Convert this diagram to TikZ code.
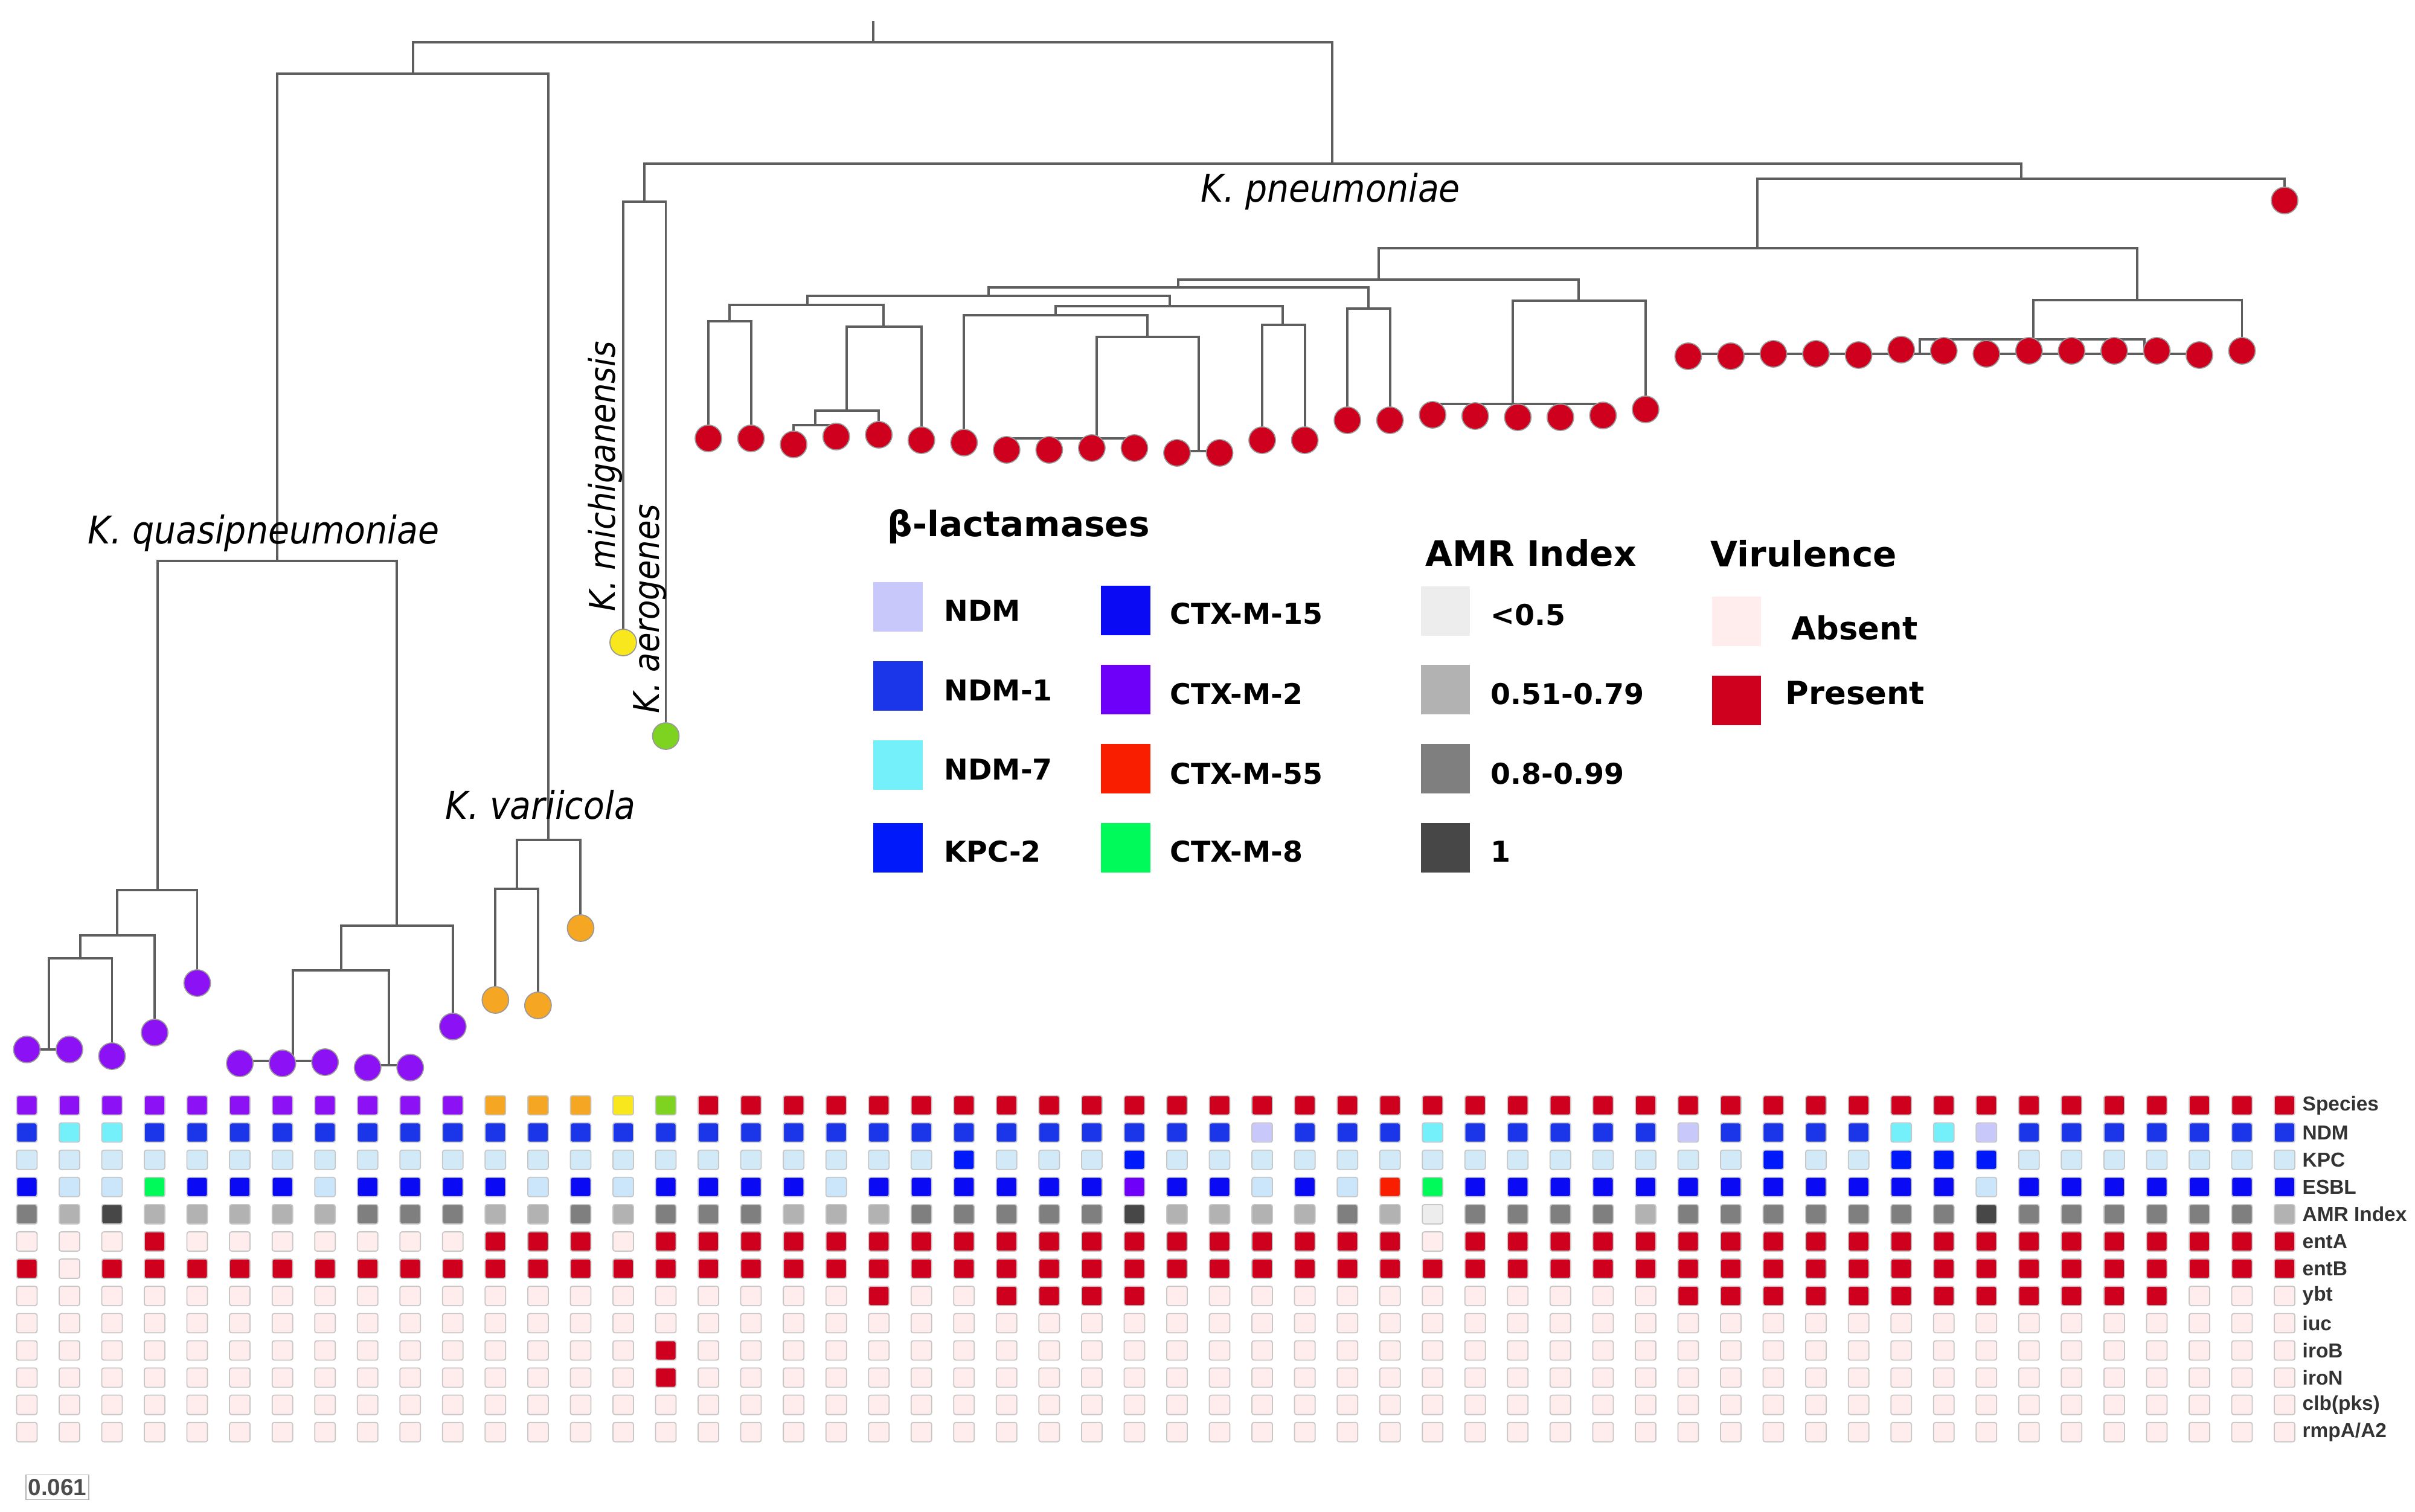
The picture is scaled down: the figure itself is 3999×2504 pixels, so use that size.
\documentclass[tikz,border=0pt]{standalone}
\usepackage{fontspec}
\setmainfont{Liberation Sans}
\newfontfamily\spfont[FakeStretch=0.9]{DejaVu Sans}
\newfontfamily\lgfont{DejaVu Sans}
\definecolor{treegray}{HTML}{5E5E5E}
\definecolor{spP}{HTML}{8C12F5}
\definecolor{spO}{HTML}{F5A623}
\definecolor{spY}{HTML}{F8E71C}
\definecolor{spG}{HTML}{7ED321}
\definecolor{spR}{HTML}{CE001E}
% heat map codes
\definecolor{hmP}{HTML}{8C12F5}
\definecolor{hmO}{HTML}{F5A623}
\definecolor{hmY}{HTML}{F8E71C}
\definecolor{hmG}{HTML}{7ED321}
\definecolor{hmR}{HTML}{CE001E}
\definecolor{hmn}{HTML}{C8C8FA}
\definecolor{hma}{HTML}{1B35E8}
\definecolor{hmg}{HTML}{73F0FA}
\definecolor{hmk}{HTML}{D2EAF8}
\definecolor{hmK}{HTML}{0019FA}
\definecolor{hme}{HTML}{CBE6FA}
\definecolor{hmF}{HTML}{0A0AF5}
\definecolor{hmT}{HTML}{6E00FA}
\definecolor{hmC}{HTML}{FA1E00}
\definecolor{hmE}{HTML}{00FA5A}
\definecolor{hmL}{HTML}{EDEDED}
\definecolor{hmM}{HTML}{B2B2B2}
\definecolor{hmD}{HTML}{7F7F7F}
\definecolor{hmX}{HTML}{474747}
\definecolor{hmz}{HTML}{FFECEC}
\definecolor{hmp}{HTML}{CE001E}
\tikzset{
  tree/.style={draw=treegray, line width=1.1pt},
  leaf/.style={circle, draw=black!40, line width=0.5pt, minimum size=0.44cm, inner sep=0pt},
  hm/.style={rectangle, rounded corners=1pt, draw=black!22, line width=0.5pt, minimum width=0.34cm, minimum height=0.32cm, inner sep=0pt},
  sw/.style={rectangle, minimum size=0.81cm, inner sep=0pt},
  splab/.style={font=\spfont\itshape\fontsize{18}{20}\selectfont, inner sep=0pt, anchor=base west},
  sprot/.style={font=\spfont\itshape\fontsize{16.7}{19}\selectfont, inner sep=0pt, anchor=base west, rotate=90},
  lghead/.style={font=\lgfont\bfseries\fontsize{16.5}{19}\selectfont, inner sep=0pt, anchor=base west},
  lglab/.style={font=\lgfont\bfseries\fontsize{13.5}{16}\selectfont, inner sep=0pt, anchor=base west},
  vlab/.style={font=\lgfont\bfseries\fontsize{15}{17}\selectfont, inner sep=0pt, anchor=base west},
  rowlab/.style={font=\bfseries\fontsize{9.5}{11}\selectfont, text=black!80, inner sep=0pt, anchor=west},
}
\begin{document}
\begin{tikzpicture}[x=0.01cm,y=-0.01cm]
\fill[white] (0,0) rectangle (3999,2504);
\useasboundingbox (0,0) rectangle (3999,2504);

% ---------- leaf positions ----------
\foreach \y [count=\i from 0] in {1738,1738,1749,1710,1628,1761,1761,1759,1768,1768,1700,1656,1665,1537,1064,1219,
  726,726,736,723,720,729,733,745,745,742,742,750,750,729,729,
  696,696,687,689,691,691,688,678,
  590,590,586,586,588,579,581,586,581,581,581,581,588,581,332}
  \coordinate (P\i) at ({44.4+70.54*\i},\y);

% ---------- internal nodes ----------
\coordinate (Rt) at (1446,35);
\coordinate (R) at (1446,70);
\coordinate (A) at (684,122);
\coordinate (Q) at (459,929);
\coordinate (Q1) at (261,1474);
\coordinate (Q11) at (194,1549);
\coordinate (Q111) at (133,1587);
\coordinate (Q1111) at (81,1738);
\coordinate (Q2) at (657,1533);
\coordinate (Q21) at (565,1607);
\coordinate (Q211) at (485,1757);
\coordinate (Q212) at (644,1764);
\coordinate (V) at (908,1391);
\coordinate (V1) at (856,1472);
\coordinate (B) at (2206,271);
\coordinate (M) at (1067,334);
\coordinate (KP) at (3347,296);
\coordinate (K1) at (2910,411);
\coordinate (K2) at (2283,463);
\coordinate (K3) at (3539,497);
\coordinate (K31) at (3367,562);
\coordinate (K311) at (3179,586);
\coordinate (K312) at (3551,586);
\coordinate (K21) at (1951,476);
\coordinate (K22) at (2614,498);
\coordinate (K221) at (2505,669);
\coordinate (K212) at (2266,511);
\coordinate (K211) at (1637,490);
\coordinate (K2111) at (1337,505);
\coordinate (Ka) at (1208,532);
\coordinate (Kb) at (1463,541);
\coordinate (Kb1) at (1402,680);
\coordinate (Kb11) at (1350,704);
\coordinate (K2112) at (1937,507);
\coordinate (Kc) at (1748,522);
\coordinate (Kd) at (2124,538);
\coordinate (Ke) at (1900,558);
\coordinate (Kf) at (1816,726);
\coordinate (Kg) at (1985,747);

% ---------- tree edges ----------
\draw[tree] (Rt) -- (R);
\draw[tree] (R) -| (A);  \draw[tree] (R) -| (B);
\draw[tree] (A) -| (Q);  \draw[tree] (A) -| (V);
\draw[tree] (Q) -| (Q1); \draw[tree] (Q) -| (Q2);
\draw[tree] (Q1) -| (Q11); \draw[tree] (Q1) -| (P4);
\draw[tree] (Q11) -| (Q111); \draw[tree] (Q11) -| (P3);
\draw[tree] (Q111) -| (Q1111); \draw[tree] (Q111) -| (P2);
\draw[tree] (Q1111) -| (P0); \draw[tree] (Q1111) -| (P1);
\draw[tree] (Q2) -| (Q21); \draw[tree] (Q2) -| (P10);
\draw[tree] (Q21) -| (Q211); \draw[tree] (Q21) -| (Q212);
\foreach \k in {5,6,7} \draw[tree] (Q211) -| (P\k);
\foreach \k in {8,9} \draw[tree] (Q212) -| (P\k);
\draw[tree] (V) -| (V1); \draw[tree] (V) -| (P13);
\foreach \k in {11,12} \draw[tree] (V1) -| (P\k);
\draw[tree] (B) -| (M); \draw[tree] (B) -| (KP);
\foreach \k in {14,15} \draw[tree] (M) -| (P\k);
\draw[tree] (KP) -| (K1); \draw[tree] (KP) -| (P53);
\draw[tree] (K1) -| (K2); \draw[tree] (K1) -| (K3);
\draw[tree] (K3) -| (K31); \draw[tree] (K3) -| (P52);
\draw[tree] (K31) -| (K311); \draw[tree] (K31) -| (K312);
\foreach \k in {39,...,45} \draw[tree] (K311) -| (P\k);
\foreach \k in {46,...,51} \draw[tree] (K312) -| (P\k);
\draw[tree] (K2) -| (K21); \draw[tree] (K2) -| (K22);
\draw[tree] (K22) -| (K221); \draw[tree] (K22) -| (P38);
\foreach \k in {33,...,37} \draw[tree] (K221) -| (P\k);
\draw[tree] (K21) -| (K211); \draw[tree] (K21) -| (K212);
\foreach \k in {31,32} \draw[tree] (K212) -| (P\k);
\draw[tree] (K211) -| (K2111); \draw[tree] (K211) -| (K2112);
\draw[tree] (K2111) -| (Ka); \draw[tree] (K2111) -| (Kb);
\foreach \k in {16,17} \draw[tree] (Ka) -| (P\k);
\draw[tree] (Kb) -| (Kb1); \draw[tree] (Kb) -| (P21);
\draw[tree] (Kb1) -| (Kb11); \draw[tree] (Kb1) -| (P20);
\foreach \k in {18,19} \draw[tree] (Kb11) -| (P\k);
\draw[tree] (K2112) -| (Kc); \draw[tree] (K2112) -| (Kd);
\draw[tree] (Kc) -| (P22); \draw[tree] (Kc) -| (Ke);
\draw[tree] (Ke) -| (Kf); \draw[tree] (Ke) -| (Kg);
\foreach \k in {23,...,26} \draw[tree] (Kf) -| (P\k);
\foreach \k in {27,28} \draw[tree] (Kg) -| (P\k);
\foreach \k in {29,30} \draw[tree] (Kd) -| (P\k);

% ---------- leaves ----------
\foreach \i in {0,...,10} \node[leaf, fill=spP] (L\i) at (P\i) {};
\foreach \i in {11,12,13} \node[leaf, fill=spO] (L\i) at (P\i) {};
\node[leaf, fill=spY] (L14) at (P14) {};
\node[leaf, fill=spG] (L15) at (P15) {};
\foreach \i in {16,...,53} \node[leaf, fill=spR] (L\i) at (P\i) {};

% ---------- species labels ----------
\node[splab] (tq) at (145,901) {K. quasipneumoniae};
\node[splab] (tv) at (737,1356) {K. variicola};
\node[splab] (tp) at (1988,335) {K. pneumoniae};
\node[sprot] (tm) at (1018,1013) {K. michiganensis};
\node[sprot] (ta) at (1091,1182) {K. aerogenes};

% ---------- legend ----------
\node[lghead] (hb) at (1469,889) {β-lactamases};
\node[lghead] (ha) at (2360,938) {AMR Index};
\node[lghead] (hv) at (2832,939) {Virulence};

\node[sw, fill=hmn] (s1) at (1487,1005) {};
\node[sw, fill=hma] (s2) at (1487,1136) {};
\node[sw, fill=hmg] (s3) at (1487,1267) {};
\node[sw, fill=hmK] (s4) at (1487,1404) {};
\node[lglab] (t1) at (1563,1029) {NDM};
\node[lglab] (t2) at (1563,1160) {NDM-1};
\node[lglab] (t3) at (1563,1291) {NDM-7};
\node[lglab] (t4) at (1563,1427) {KPC-2};

\node[sw, fill=hmF] (s5) at (1864,1011) {};
\node[sw, fill=hmT] (s6) at (1864,1142) {};
\node[sw, fill=hmC] (s7) at (1864,1273) {};
\node[sw, fill=hmE] (s8) at (1864,1404) {};
\node[lglab] (t5) at (1937,1034) {CTX-M-15};
\node[lglab] (t6) at (1937,1166) {CTX-M-2};
\node[lglab] (t7) at (1937,1298) {CTX-M-55};
\node[lglab] (t8) at (1937,1427) {CTX-M-8};

\node[sw, fill=hmL] (s9) at (2393,1012) {};
\node[sw, fill=hmM] (s10) at (2393,1142) {};
\node[sw, fill=hmD] (s11) at (2393,1273) {};
\node[sw, fill=hmX] (s12) at (2393,1404) {};
\node[lglab] (t9) at (2468,1036) {<0.5};
\node[lglab] (t10) at (2468,1166) {0.51-0.79};
\node[lglab] (t11) at (2468,1298) {0.8-0.99};
\node[lglab] (t12) at (2468,1427) {1};

\node[sw, fill=hmz] (s13) at (2875,1029) {};
\node[sw, fill=hmp] (s14) at (2875,1160) {};
\node[vlab] (t13) at (2966,1060) {Absent};
\node[vlab] (t14) at (2956,1167) {Present};

% ---------- heat map ----------
\foreach \c [count=\i from 0] in {P,P,P,P,P,P,P,P,P,P,P,O,O,O,Y,G,R,R,R,R,R,R,R,R,R,R,R,R,R,R,R,R,R,R,R,R,R,R,R,R,R,R,R,R,R,R,R,R,R,R,R,R,R,R}
  \node[hm, fill=hm\c] (H0-\i) at ({44.4+70.54*\i},1830.5) {};
\foreach \c [count=\i from 0] in {a,g,g,a,a,a,a,a,a,a, a,a,a,a,a,a,a,a,a,a, a,a,a,a,a,a,a,a,a,n, a,a,a,g,a,a,a,a,a,n, a,a,a,a,g,g,n,a,a,a, a,a,a,a}
  \node[hm, fill=hm\c] (H1-\i) at ({44.4+70.54*\i},1875.6) {};
\foreach \c [count=\i from 0] in {k,k,k,k,k,k,k,k,k,k, k,k,k,k,k,k,k,k,k,k, k,k,K,k,k,k,K,k,k,k, k,k,k,k,k,k,k,k,k,k, k,K,k,k,K,K,K,k,k,k, k,k,k,k}
  \node[hm, fill=hm\c] (H2-\i) at ({44.4+70.54*\i},1920.7) {};
\foreach \c [count=\i from 0] in {F,e,e,E,F,F,F,e,F,F, F,F,e,F,e,F,F,F,F,e, F,F,F,F,F,F,T,F,F,e, F,e,C,E,F,F,F,F,F,F, F,F,F,F,F,F,e,F,F,F, F,F,F,F}
  \node[hm, fill=hm\c] (H3-\i) at ({44.4+70.54*\i},1965.8) {};
\foreach \c [count=\i from 0] in {D,M,X,M,M,M,M,M,D,D, D,M,M,D,M,D,D,D,M,M, M,D,D,D,D,D,X,M,M,M, M,D,M,L,D,D,D,D,M,D, D,D,D,D,D,D,X,D,D,D, D,D,D,M}
  \node[hm, fill=hm\c] (H4-\i) at ({44.4+70.54*\i},2010.9) {};
\foreach \c [count=\i from 0] in {z,z,z,p,z,z,z,z,z,z, z,p,p,p,z,p,p,p,p,p, p,p,p,p,p,p,p,p,p,p, p,p,p,z,p,p,p,p,p,p, p,p,p,p,p,p,p,p,p,p, p,p,p,p}
  \node[hm, fill=hm\c] (H5-\i) at ({44.4+70.54*\i},2056) {};
\foreach \c [count=\i from 0] in {p,z,p,p,p,p,p,p,p,p, p,p,p,p,p,p,p,p,p,p, p,p,p,p,p,p,p,p,p,p, p,p,p,p,p,p,p,p,p,p, p,p,p,p,p,p,p,p,p,p, p,p,p,p}
  \node[hm, fill=hm\c] (H6-\i) at ({44.4+70.54*\i},2101.1) {};
\foreach \c [count=\i from 0] in {z,z,z,z,z,z,z,z,z,z, z,z,z,z,z,z,z,z,z,z, p,z,z,p,p,p,p,z,z,z, z,z,z,z,z,z,z,z,z,p, p,p,p,p,p,p,p,p,p,p, p,z,z,z}
  \node[hm, fill=hm\c] (H7-\i) at ({44.4+70.54*\i},2146.2) {};
\foreach \i in {0,...,53} \node[hm, fill=hmz] (H8-\i) at ({44.4+70.54*\i},2191.3) {};
\foreach \i in {0,...,53} {
  \ifnum\i=15 \def\cc{p}\else\def\cc{z}\fi
  \node[hm, fill=hm\cc] (H9-\i) at ({44.4+70.54*\i},2236.4) {};
  \node[hm, fill=hm\cc] (H10-\i) at ({44.4+70.54*\i},2281.5) {};
}
\foreach \i in {0,...,53} \node[hm, fill=hmz] (H11-\i) at ({44.4+70.54*\i},2326.6) {};
\foreach \i in {0,...,53} \node[hm, fill=hmz] (H12-\i) at ({44.4+70.54*\i},2371.7) {};

% ---------- row labels ----------
\foreach \t [count=\j from 0] in {Species,NDM,KPC,ESBL,AMR Index,entA,entB,ybt,iuc,iroB,iroN,clb(pks),rmpA/A2}
  \node[rowlab] (T\j) at (3812,{1830.5+45.1*\j}) {\t};

% ---------- scale ----------
\node[draw=black!30, line width=0.4pt, minimum width=1.04cm, minimum height=0.41cm, inner sep=0pt,
      font=\bfseries\fontsize{11}{12}\selectfont, text=black!70] (sc) at (95,2463) {0.061};
\end{tikzpicture}
\end{document}
